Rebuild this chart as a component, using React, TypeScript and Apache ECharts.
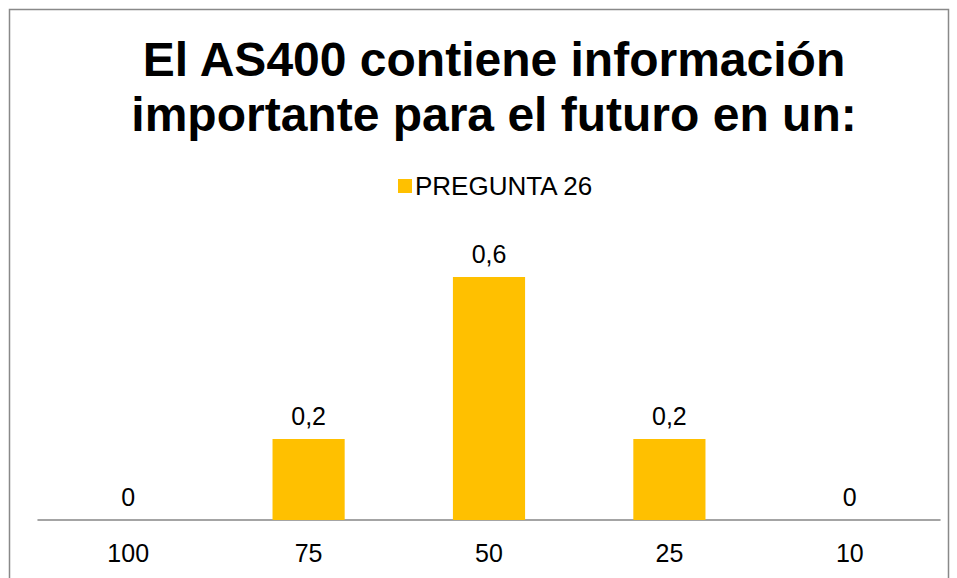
import React, { useEffect, useRef } from "react";
import * as echarts from "echarts";

const categories = ["100", "75", "50", "25", "10"];
const values = [0, 0.2, 0.6, 0.2, 0];
const seriesName = "PREGUNTA 26";
const titleText = "El AS400 contiene información\nimportante para el futuro en un:";

export default function App() {
  const ref = useRef<HTMLDivElement>(null);
  useEffect(() => {
    const chart = echarts.init(ref.current!, undefined, { renderer: "svg" });
    const font = "'Liberation Sans', Arial, sans-serif";
    chart.setOption({
      animation: false,
      backgroundColor: "#ffffff",
      title: {
        text: titleText,
        left: 489,
        top: 27,
        textAlign: "center",
        textStyle: {
          fontFamily: font,
          fontSize: 48,
          fontWeight: "bold",
          color: "#000000",
          lineHeight: 55,
        },
      },
      legend: {
        data: [seriesName],
        left: 393,
        top: 168,
        itemWidth: 14,
        itemHeight: 14,
        itemGap: 5,
        icon: "rect",
        textStyle: { fontFamily: font, fontSize: 26, color: "#000000", padding: [0, 0, 0, -2] },
      },
      grid: { left: 38, right: 17, bottom: 58, top: 236.5, containLabel: false },
      xAxis: {
        type: "category",
        data: categories,
        axisLine: { lineStyle: { color: "#868686", width: 1.5 } },
        axisTick: { show: false },
        axisLabel: { fontFamily: font, fontSize: 25, color: "#000000", margin: 20 },
      },
      yAxis: {
        type: "value",
        min: 0,
        max: 0.7,
        show: false,
        splitLine: { show: false },
      },
      series: [
        {
          name: seriesName,
          type: "bar",
          data: values,
          barWidth: "40%",
          itemStyle: { color: "#FFC000" },
          label: {
            show: true,
            position: "top",
            distance: 11,
            fontFamily: font,
            fontSize: 25,
            color: "#000000",
            formatter: (p: any) => String(p.value).replace(".", ","),
          },
        },
      ],
      graphic: [
        {
          type: "rect",
          shape: { x: 9.5, y: 9.5, width: 939, height: 620 },
          style: { fill: "none", stroke: "#898989", lineWidth: 1.5 },
          silent: true,
          z: -1,
        },
      ],
    });
    return () => chart.dispose();
  }, []);
  return (
    <div
      ref={ref}
      style={{ position: "fixed", left: 0, top: 0, width: 957, height: 578 }}
    />
  );
}
